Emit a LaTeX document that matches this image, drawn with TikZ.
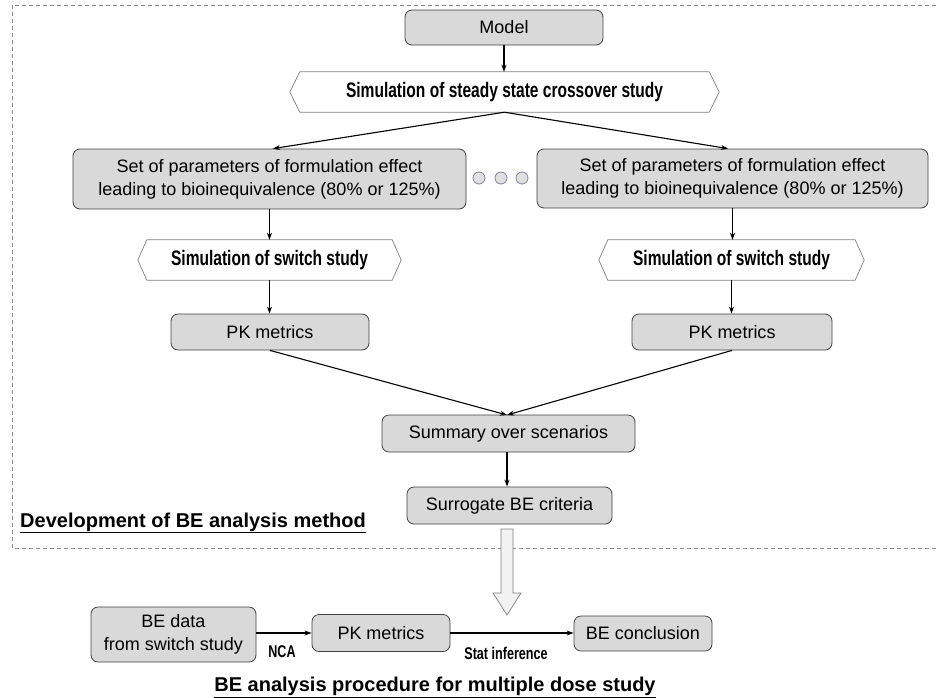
\documentclass[tikz,border=0pt]{standalone}
\usepackage{fontspec}
\setmainfont{Liberation Sans}
\newfontfamily\nb[FakeStretch=0.74]{Liberation Sans}
\usetikzlibrary{arrows.meta}
\begin{document}
\begin{tikzpicture}[x=1pt,y=-1pt,
  gbox/.style={draw=black!75, line width=0.8pt, fill=black!15, rounded corners=7pt, inner sep=0pt, align=center, font=\fontsize{18}{23}\selectfont},
  hexnode/.style={inner sep=0pt, font=\nb\bfseries\fontsize{21}{24}\selectfont},
  hexline/.style={draw=black!50, line width=0.7pt, fill=white},
  arr/.style={-{Stealth[length=7pt,width=5pt]}, line width=1.1pt},
  lab/.style={font=\nb\bfseries\fontsize{17}{20}\selectfont, inner sep=0pt},
  ttl/.style={font=\bfseries\fontsize{20}{24}\selectfont, inner sep=0pt},
  dotc/.style={draw=blue!30!black!50, fill=black!12, line width=0.8pt},
  dashframe/.style={draw=black!45, dash pattern=on 4pt off 3pt, line width=0.7pt}
]
\useasboundingbox (0,0) rectangle (936,697);
% frame
\draw[dashframe] (936,5) -- (12,5) -- (12,548) -- (936,548);
% nodes
\node[gbox, minimum width=198pt, minimum height=35pt] (model) at (504,27.5) {Model};
\node[hexnode, minimum width=429pt, minimum height=40pt] (hexa) at (504.5,92) {};
\draw[hexline] ([xshift=10]hexa.north west) -- ([xshift=-10]hexa.north east) -- (hexa.east) -- ([xshift=-10]hexa.south east) -- ([xshift=10]hexa.south west) -- (hexa.west) -- cycle;
\node[hexnode] at (hexa.center) {Simulation of steady state crossover study};
\node[gbox, minimum width=393pt, minimum height=60pt] (lset) at (269.5,179) {Set of parameters of formulation effect\\leading to bioinequivalence (80\% or 125\%)};
\node[gbox, minimum width=391pt, minimum height=59pt] (rset) at (732.5,178.5) {Set of parameters of formulation effect\\leading to bioinequivalence (80\% or 125\%)};
\foreach \i/\x in {1/479,2/501,3/522} \draw[dotc] (\x,178) circle (6);
\node[hexnode, minimum width=263pt, minimum height=40pt] (lhex) at (269.5,260) {};
\draw[hexline] ([xshift=9]lhex.north west) -- ([xshift=-9]lhex.north east) -- (lhex.east) -- ([xshift=-9]lhex.south east) -- ([xshift=9]lhex.south west) -- (lhex.west) -- cycle;
\node[hexnode] at (lhex.center) {Simulation of switch study};
\node[hexnode, minimum width=265pt, minimum height=40pt] (rhex) at (731.5,260) {};
\draw[hexline] ([xshift=9]rhex.north west) -- ([xshift=-9]rhex.north east) -- (rhex.east) -- ([xshift=-9]rhex.south east) -- ([xshift=9]rhex.south west) -- (rhex.west) -- cycle;
\node[hexnode] at (rhex.center) {Simulation of switch study};
\node[gbox, minimum width=198pt, minimum height=36pt] (lpk) at (270,332) {PK metrics};
\node[gbox, minimum width=200pt, minimum height=36pt] (rpk) at (732,332) {PK metrics};
\node[gbox, minimum width=253pt, minimum height=37pt] (sum) at (508.5,433.5) {Summary over scenarios};
\node[gbox, minimum width=205pt, minimum height=37pt] (sur) at (509.5,505.5) {Surrogate BE criteria};
\node[ttl, anchor=base west] (devt) at (20,527) {\underline{Development of BE analysis method}};
% connectors
\draw[arr] (model.south) -- (hexa.north -| model.south);
\draw[arr] (hexa.south) -- ([xshift=3.5]lset.north);
\draw[arr] (hexa.south) -- ([xshift=-4.5]rset.north);
\draw[arr] (lset.south) -- (lhex.north);
\draw[arr] (rset.south) -- (rset.south |- rhex.north);
\draw[arr] (lhex.north |- lhex.south) -- (lhex.north |- lpk.north);
\draw[arr] (rhex.south) -- (rhex.south |- rpk.north);
\coordinate (sumin) at (507,415);
\draw[arr] (lpk.south) -- (sumin);
\draw[arr] (rpk.south) -- (sumin);
\draw[arr] (sumin |- sum.south) -- (sumin |- sur.north);
% hollow arrow
\draw[draw=black!50, fill=black!5, line width=0.7pt] (501,529) -- (513,529) -- (513,593) -- (521,593) -- (507,615) -- (493,593) -- (501,593) -- cycle;
% bottom
\node[gbox, minimum width=165pt, minimum height=55pt] (bedata) at (173.5,634.5) {BE data\\from switch study};
\node[gbox, minimum width=138pt, minimum height=37pt] (bpk) at (381,633) {PK metrics};
\node[gbox, minimum width=138pt, minimum height=35pt] (bcon) at (643,633.5) {BE conclusion};
\draw[arr] (bedata.east |- bpk.west) -- (bpk.west);
\draw[arr] (bpk.east) -- (bpk.east -| bcon.west);
\node[lab] (nca) at (282,652) {NCA};
\node[lab] (stat) at (506,653) {Stat inference};
\node[ttl] (btitle) at (435,687) {\underline{BE analysis procedure for multiple dose study}};
\end{tikzpicture}
\end{document}
